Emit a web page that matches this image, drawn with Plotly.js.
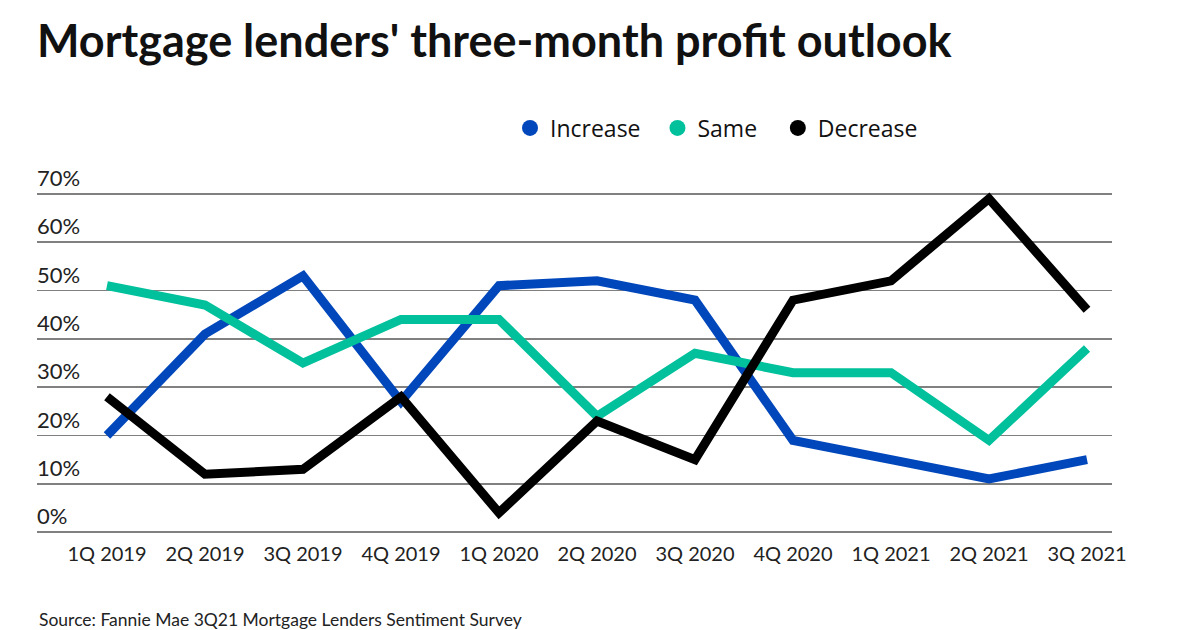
<!DOCTYPE html>
<html>
<head>
<meta charset="utf-8">
<script src="https://cdn.plot.ly/plotly-3.0.1.min.js"></script>
<style>
html,body{margin:0;padding:0;background:#fff;}
#chart{width:1200px;height:630px;}
</style>
</head>
<body>
<div id="chart"></div>
<script>
const quarters = ["1Q 2019","2Q 2019","3Q 2019","4Q 2019","1Q 2020","2Q 2020","3Q 2020","4Q 2020","1Q 2021","2Q 2021","3Q 2021"];
const increase = [20, 41, 53, 27, 51, 52, 48, 19, 15, 11, 15];
const same     = [51, 47, 35, 44, 44, 24, 37, 33, 33, 19, 38];
const decrease = [28, 12, 13, 28, 4, 23, 15, 48, 52, 69, 46];
const yTicks = [0, 10, 20, 30, 40, 50, 60, 70];
const seriesNames = ["Increase", "Same", "Decrease"];
const nameSuffix = ["\u00a0\u00a0", "\u00a0\u00a0\u2009", ""];
const colors = ["#0047BB", "#00C19C", "#000000"];

const W = 1200, H = 630;
const L = 37, R = 1112;
const Y0PX = 532, Y70PX = 193.5;           // pixel rows of the 0% and 70% gridlines
const YMIN = -1, YMAX = 77;
const pxPer = (Y0PX - Y70PX) / 70;
const T = Math.round(Y70PX - (YMAX - 70) * pxPer);
const B = Math.round(Y0PX + (0 - YMIN) * pxPer);
const plotH = B - T;

const series = [increase, same, decrease];
const traces = [];
series.forEach((vals, i) => {
  traces.push({
    x: quarters, y: vals, type: "scatter", mode: "lines",
    line: {color: colors[i], width: 9},
    showlegend: false, hoverinfo: "skip"
  });
});
series.forEach((vals, i) => {
  traces.push({
    x: [null], y: [null], type: "scatter", mode: "markers",
    name: seriesNames[i] + nameSuffix[i],
    marker: {color: colors[i], size: 18, symbol: "circle"},
    showlegend: true
  });
});

const layout = {
  width: W, height: H,
  paper_bgcolor: "#fff", plot_bgcolor: "#fff",
  margin: {l: L, r: W - R, t: T, b: H - B, pad: 0, autoexpand: false},
  font: {family: "Lato, sans-serif", color: "#222"},
  title: {
    text: "Mortgage lenders' three-month profit outlook",
    font: {family: "Lato, sans-serif", size: 45, weight: 700, color: "#111"},
    x: L / W, xanchor: "left", xref: "container",
    y: 1 - 41 / H, yanchor: "middle", yref: "container"
  },
  showlegend: true,
  legend: {
    orientation: "h",
    x: 510 / W, xanchor: "left", xref: "container",
    y: 1 - 128 / H, yanchor: "middle", yref: "container",
    font: {family: "'Open Sans', sans-serif", size: 23, color: "#111"},
    itemwidth: 30, tracegroupgap: 0,
    bgcolor: "rgba(0,0,0,0)"
  },
  xaxis: {
    type: "category",
    categoryorder: "array", categoryarray: quarters,
    range: [-0.714, 10.255],
    showgrid: false, zeroline: false, showline: false,
    ticks: "", ticklabelstandoff: Math.round(8 - (B - Y0PX)),
    tickfont: {family: "Lato, sans-serif", size: 20, color: "#222"},
    fixedrange: true
  },
  yaxis: {
    range: [YMIN, YMAX],
    tickvals: yTicks,
    ticktext: yTicks.map(v => v + "%"),
    ticklabelposition: "inside top",
    ticklabelstandoff: -3,
    tickfont: {family: "Lato, sans-serif", size: 22, color: "#222"},
    showgrid: true, gridcolor: "#808080", gridwidth: 1.5,
    zeroline: false, showline: false, ticks: "",
    fixedrange: true
  },
  annotations: [{
    text: "Source: Fannie Mae 3Q21 Mortgage Lenders Sentiment Survey",
    xref: "paper", yref: "paper",
    x: 0, xanchor: "left",
    y: -(619 - B) / plotH, yanchor: "middle",
    showarrow: false,
    font: {family: "Lato, sans-serif", size: 17.5, color: "#222"}
  }]
};

Plotly.newPlot("chart", traces, layout, {displayModeBar: false, staticPlot: true});
</script>
</body>
</html>
